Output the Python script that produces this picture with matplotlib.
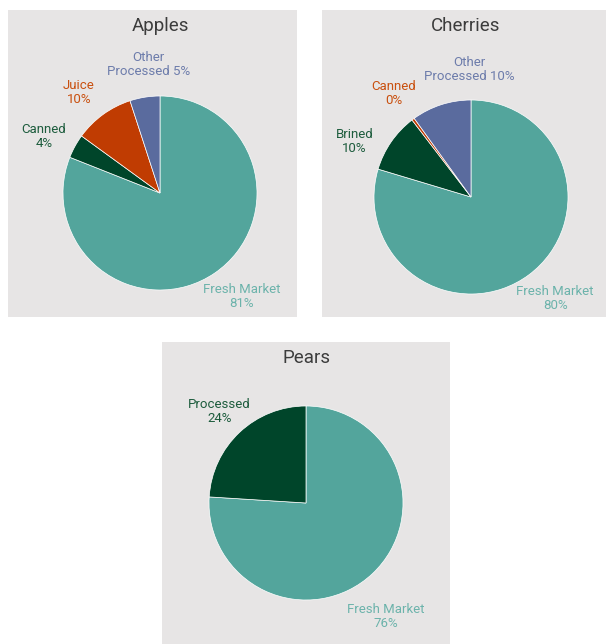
"""Fruit utilization shares: three pie panels (apples, cherries, pears)."""
import numpy as np
import matplotlib
matplotlib.use("Agg")
import matplotlib.pyplot as plt

plt.rcParams["font.family"] = ["Roboto", "DejaVu Sans"]

# shares in percent, listed clockwise from 12 o'clock
apple_labels = ["Fresh Market", "Canned", "Juice", "Other\nProcessed"]
apple_values = [81, 4, 10, 5]

cherry_labels = ["Fresh Market", "Brined", "Canned", "Other\nProcessed"]
cherry_values = [80, 10, 0.45, 10]

pear_labels = ["Fresh Market", "Processed"]
pear_values = [76, 24]

TEAL = "#53a59c"
GREEN = "#00452a"
ORANGE = "#c03c02"
SLATE = "#5a6b9e"
TEXT = {TEAL: "#6cb3ab", GREEN: "#1d5c3d", ORANGE: "#c9500f", SLATE: "#6d7cab"}

PANEL_BG = "#e7e5e5"
W, H = 606, 644
R = 97


def pie_panel(fig, rect, title, labels, values, colors, center, nudges, dists,
              title_x=None):
    # rect and center are in figure pixels; data units on the axes are pixels too
    x0, y0, w, h = rect
    ax = fig.add_axes([x0 / W, 1 - (y0 + h) / H, w / W, h / H])
    ax.set_facecolor(PANEL_BG)
    for s in ax.spines.values():
        s.set_visible(False)
    cx, cy = center[0] - x0, (y0 + h) - center[1]
    wedges, _ = ax.pie(values, colors=colors, radius=R, center=(cx, cy),
                       startangle=90, counterclock=False, frame=True,
                       wedgeprops=dict(edgecolor="white", linewidth=0.5))
    ax.set_xlim(0, w)
    ax.set_ylim(0, h)
    ax.set_aspect("equal")
    ax.set_xticks([])
    ax.set_yticks([])

    for i, (wd, name, v, c) in enumerate(zip(wedges, labels, values, colors)):
        mid = (wd.theta1 + wd.theta2) / 2 + nudges.get(i, 0)
        d = dists.get(i, 1.33) * R
        tx = cx + d * np.cos(np.radians(mid))
        ty = cy + d * np.sin(np.radians(mid))
        pct = f"{v:.0f}%"
        txt = f"{name} {pct}" if "\n" in name else f"{name}\n{pct}"
        ax.text(tx, ty, txt, ha="center", va="center", fontsize=9.5,
                color=TEXT[c], linespacing=1.1)

    tx = (title_x if title_x is not None else center[0]) - x0
    ax.text(tx, h - 16, title, ha="center", va="center",
            fontsize=13.5, color="#3c3c3c")
    return ax


fig = plt.figure(figsize=(W / 100, H / 100), dpi=100)
fig.patch.set_facecolor("white")

pie_panel(fig, (8, 10, 289, 307), "Apples", apple_labels, apple_values,
          [TEAL, GREEN, ORANGE, SLATE], (160, 193),
          nudges={0: 4, 1: 3, 2: 3, 3: -4}, dists={0: 1.36})
pie_panel(fig, (322, 10, 289, 307), "Cherries", cherry_labels, cherry_values,
          [TEAL, GREEN, ORANGE, SLATE], (471, 197),
          nudges={0: 3, 1: 9, 3: -17}, dists={0: 1.36, 3: 1.31}, title_x=466)
pie_panel(fig, (162, 342, 288, 302), "Pears", pear_labels, pear_values,
          [TEAL, GREEN], (306, 503),
          nudges={0: -8}, dists={0: 1.43, 1: 1.30})

fig.savefig("out.png", dpi=100, facecolor="white")
